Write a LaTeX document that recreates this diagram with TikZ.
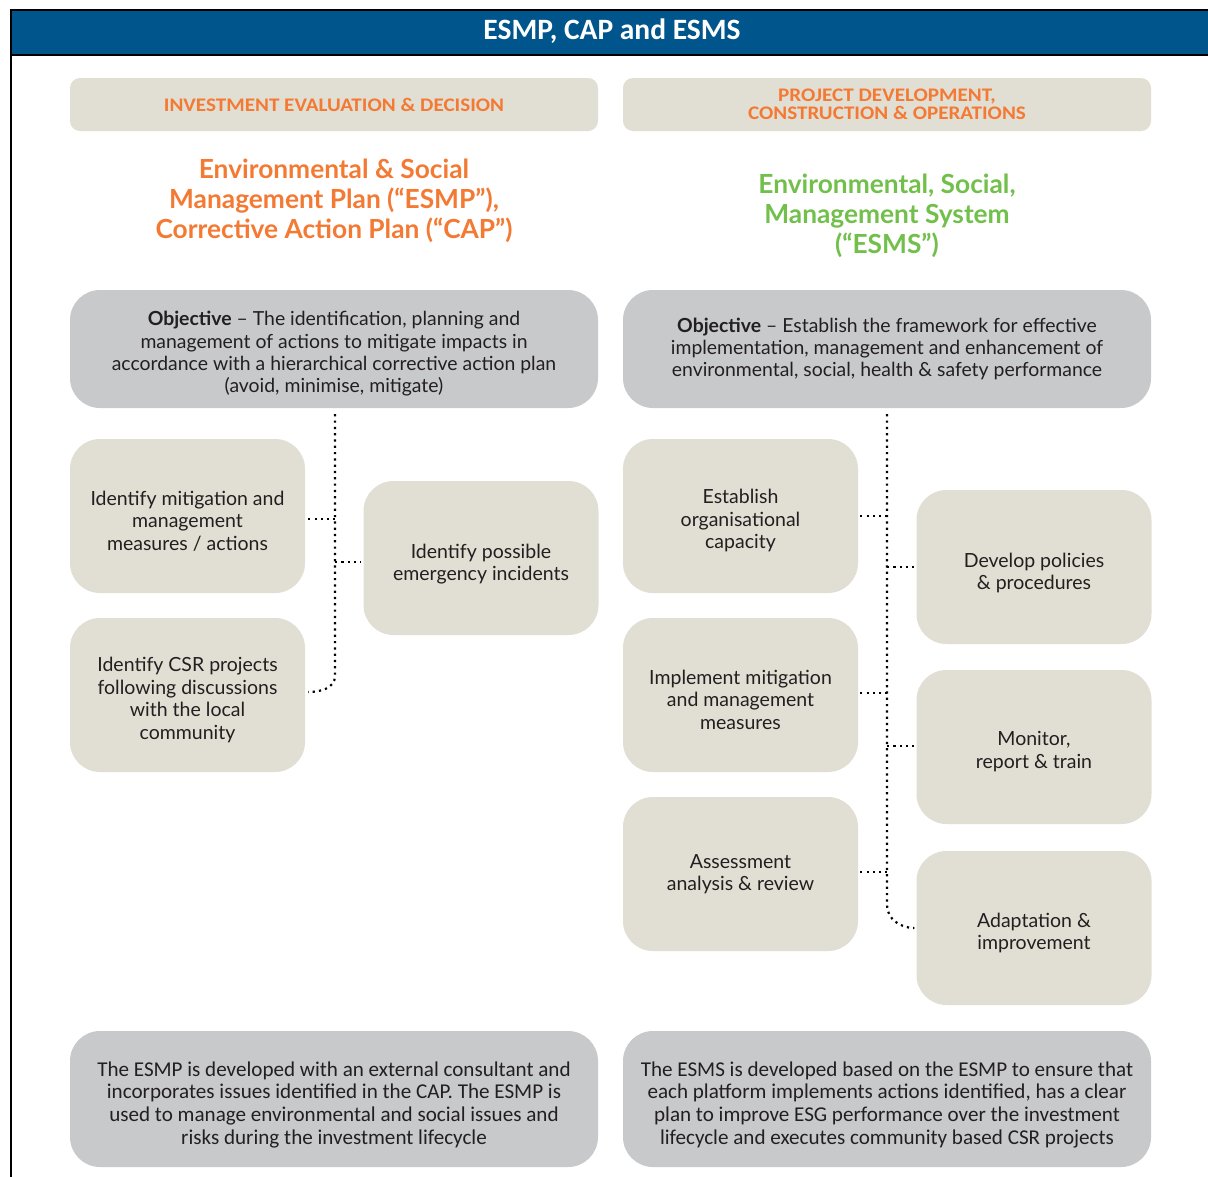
\documentclass[tikz,border=0pt]{standalone}
\usepackage{fontspec}
\setmainfont{Lato}
\newfontfamily\titlefont{Carlito}
\newfontfamily\condfont{Carlito}
\newfontfamily\hdrfont{Carlito}[FakeStretch=1.1]
\newcommand\topgap[1]{\rule{0pt}{#1}}
\definecolor{barblue}{HTML}{00568C}
\definecolor{beige}{HTML}{E1DED3}
\definecolor{greybox}{HTML}{C8C9CB}
\definecolor{orangetxt}{HTML}{F47A34}
\definecolor{greentxt}{HTML}{72C04B}
\definecolor{darktxt}{HTML}{231F20}
\begin{document}
\begin{tikzpicture}[x=1pt,y=-1pt,
  hdrbox/.style={fill=beige, rounded corners=10pt, minimum width=528pt, minimum height=53pt, inner sep=0pt, align=center, text=orangetxt, font=\hdrfont\bfseries\fontsize{19.2}{18.5}\selectfont},
  objbox/.style={fill=greybox, rounded corners=30pt, minimum width=528pt, minimum height=118pt, inner sep=0pt, align=center, text=darktxt, font=\fontsize{19.4}{22.4}\selectfont},
  botbox/.style={fill=greybox, rounded corners=30pt, minimum width=528pt, minimum height=136pt, inner sep=0pt, align=center, text=darktxt, font=\condfont\fontsize{21.1}{22.7}\selectfont},
  stepbox/.style={fill=beige, rounded corners=30pt, minimum width=235pt, minimum height=154pt, inner sep=0pt, align=center, text=darktxt, font=\fontsize{19.5}{22.5}\selectfont},
  bigtitle/.style={align=center, inner sep=0pt, font=\bfseries\fontsize{26.3}{30}\selectfont},
  conn/.style={draw=black, line width=2.2pt, dash pattern=on 2.2pt off 4.1pt}
]
\useasboundingbox (0,0) rectangle (1208,1176);
% frame and title bar
\fill[white] (0,0) rectangle (1208,1176);
\draw[line width=2pt] (11,1180) -- (11,10) -- (1212,10);
\path[fill=barblue, draw=black, line width=2pt] (11,10) rectangle (1212,55);
\node[text=white, font=\titlefont\bfseries\fontsize{29.5}{29.5}\selectfont] (title) at (612,31) {ESMP, CAP and ESMS};

% headers
\node[hdrbox] (hdrL) at (334,104.5) {INVESTMENT EVALUATION \& DECISION};
\node[hdrbox] (hdrR) at (887,104.5) {PROJECT DEVELOPMENT,\\CONSTRUCTION \& OPERATIONS};

% big titles
\node[bigtitle, text=orangetxt] (ttlL) at (334,201) {Environmental \& Social\\Management Plan (“ESMP”),\\Corrective Action Plan (“CAP”)};
\node[bigtitle, text=greentxt] (ttlR) at (887,216) {Environmental, Social,\\Management System\\(“ESMS”)};

% objectives
\node[objbox] (objL) at (334,349) {\topgap{24pt}\textbf{Objective} – The identification, planning and\\management of actions to mitigate impacts in\\accordance with a hierarchical corrective action plan\\(avoid, minimise, mitigate)};
\node[objbox] (objR) at (887,349) {\textbf{Objective} – Establish the framework for effective\\implementation, management and enhancement of\\environmental, social, health \& safety performance};

% left steps
\node[stepbox] (s1) at (187.5,516) {\topgap{24pt}Identify mitigation and\\management\\measures / actions};
\node[stepbox] (s2) at (481,558) {\topgap{27pt}Identify possible\\emergency incidents};
\node[stepbox] (s3) at (187.5,695) {\topgap{24pt}Identify CSR projects\\following discussions\\with the local\\community};

% right steps
\node[stepbox] (r1) at (740.5,516) {\topgap{24pt}Establish\\organisational\\capacity};
\node[stepbox] (r2) at (1034,567) {\topgap{26pt}Develop policies\\\& procedures};
\node[stepbox] (r3) at (740.5,695) {\topgap{24pt}Implement mitigation\\and management\\measures};
\node[stepbox] (r4) at (1034,747) {\topgap{23pt}Monitor,\\report \& train};
\node[stepbox] (r5) at (740.5,874) {Assessment\\analysis \& review};
\node[stepbox] (r6) at (1034,928) {\topgap{24pt}Adaptation \&\\improvement};

% bottom notes
\node[botbox] (botL) at (334,1099) {\topgap{26pt}The ESMP is developed with an external consultant and\\incorporates issues identified in the CAP. The ESMP is\\used to manage environmental and social issues and\\risks during the investment lifecycle};
\node[botbox] (botR) at (887,1099) {\topgap{26pt}The ESMS is developed based on the ESMP to ensure that\\each platform implements actions identified, has a clear\\plan to improve ESG performance over the investment\\lifecycle and executes community based CSR projects};

% connectors left
\coordinate (L0) at ([xshift=1pt,yshift=-6pt]objL.south);
\coordinate (L1) at (335,676);
\draw[conn] (L0) -- (L1) to[out=-90,in=0] ([xshift=3pt,yshift=3pt]s3.east);
\draw[conn] ([xshift=3pt,yshift=-3pt]s1.east) -- ([yshift=-3pt]s1.east -| L0);
\draw[conn] ([yshift=-4pt]s2.west -| L0) -- ([xshift=-2pt,yshift=-4pt]s2.west);

% connectors right
\coordinate (R0) at ([yshift=-6pt]objR.south);
\coordinate (R1) at (887,905);
\draw[conn] (R0) -- (R1) to[out=-90,in=180] ([xshift=-2pt]r6.west);
\draw[conn] ([xshift=2pt]r1.east) -- (r1.east -| R0);
\draw[conn] (r2.west -| R0) -- ([xshift=-2pt]r2.west);
\draw[conn] ([xshift=2pt,yshift=2pt]r3.east) -- ([yshift=2pt]r3.east -| R0);
\draw[conn] ([yshift=1pt]r4.west -| R0) -- ([xshift=-2pt,yshift=1pt]r4.west);
\draw[conn] ([xshift=2pt,yshift=2pt]r5.east) -- ([yshift=2pt]r5.east -| R0);
\end{tikzpicture}
\end{document}
